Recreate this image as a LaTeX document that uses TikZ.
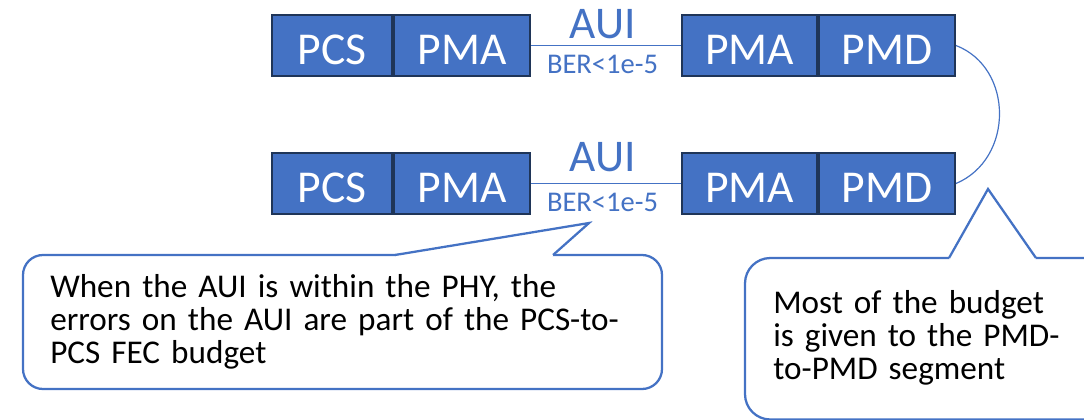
\documentclass[tikz,border=0pt]{standalone}
\usepackage{fontspec}
\setmainfont{Carlito}
\definecolor{office}{HTML}{4472C4}
\definecolor{navy}{HTML}{1F3558}
\setlength{\lineskiplimit}{-100pt}
\begin{document}
\begin{tikzpicture}[x=0.75pt,y=-0.75pt,
  blk/.style={draw=navy, line width=1.5pt, fill=office, text=white,
    inner sep=0pt, anchor=north west, minimum height=45.75pt,
    text height=37pt, text depth=8.75pt,
    font=\fontsize{34.2}{40}\selectfont},
  aui/.style={anchor=base, inner sep=0pt, text=office,
    font=\fontsize{34}{40}\selectfont},
  ber/.style={anchor=base, inner sep=0pt, text=office,
    font=\fontsize{21.4}{26}\selectfont},
  link/.style={draw=office, line width=0.9pt},
  callout/.style={draw=office, line width=1.7pt, line join=miter},
  note/.style={anchor=base west, inner sep=0pt, align=left, text width=600pt,
    font=\fontsize{24.9}{24.75}\selectfont}]
\useasboundingbox (0,0) rectangle (1084,419);
\clip (0,0) rectangle (1084,419);

% upper chain
\node[blk, minimum width=90pt]     (pcs1) at (271,14) {PCS};
\node[blk, minimum width=102pt]    (pma1) at (pcs1.north east) {PMA};
\node[blk, minimum width=101.25pt] (pmb1) at (681,14) {PMA};
\node[blk, minimum width=102pt]    (pmd1) at (pmb1.north east) {PMD};

% lower chain
\node[blk, minimum width=90pt]     (pcs2) at (271,152) {PCS};
\node[blk, minimum width=102pt]    (pma2) at (pcs2.north east) {PMA};
\node[blk, minimum width=101.25pt] (pmb2) at (681,152) {PMA};
\node[blk, minimum width=102pt]    (pmd2) at (pmb2.north east) {PMD};

% attachment unit interfaces
\draw[link] (pma1.east) -- (pmb1.west);
\draw[link] (pma2.east) -- (pmb2.west);
\node[aui] (aui1) at (603,38) {AUI};
\node[ber] (ber1) at (602.5,73) {BER<1e-5};
\node[aui] (aui2) at (603,171) {AUI};
\node[ber] (ber2) at (602.5,211) {BER<1e-5};

% medium between the two PMDs
\draw[link] (pmd1.east) .. controls (1014,68) and (1014,159) .. (pmd2.east);

% left callout
\draw[callout, rounded corners=15pt] (23,255) rectangle (662,389);
\fill[white] (396,258) -- (395,255) -- (589,223) -- (553,255) -- (552,258) -- cycle;
\draw[callout] (395,255) -- (589,223) -- (553,255);
\node[note] (note1) at (50,297)
  {When the AUI is within the PHY, the\\errors on the AUI are part of the PCS-to-\\PCS FEC budget};

% right callout
\draw[callout, rounded corners=19pt] (745,258) rectangle (1120,419.5);
\fill[white] (950,261) -- (949,258) -- (988,189) -- (1036,258) -- (1035,261) -- cycle;
\draw[callout] (949,258) -- (988,189) -- (1036,258);
\node[note] (note2) at (773,313)
  {Most of the budget\\is given to the PMD-\\to-PMD segment};
\end{tikzpicture}
\end{document}
